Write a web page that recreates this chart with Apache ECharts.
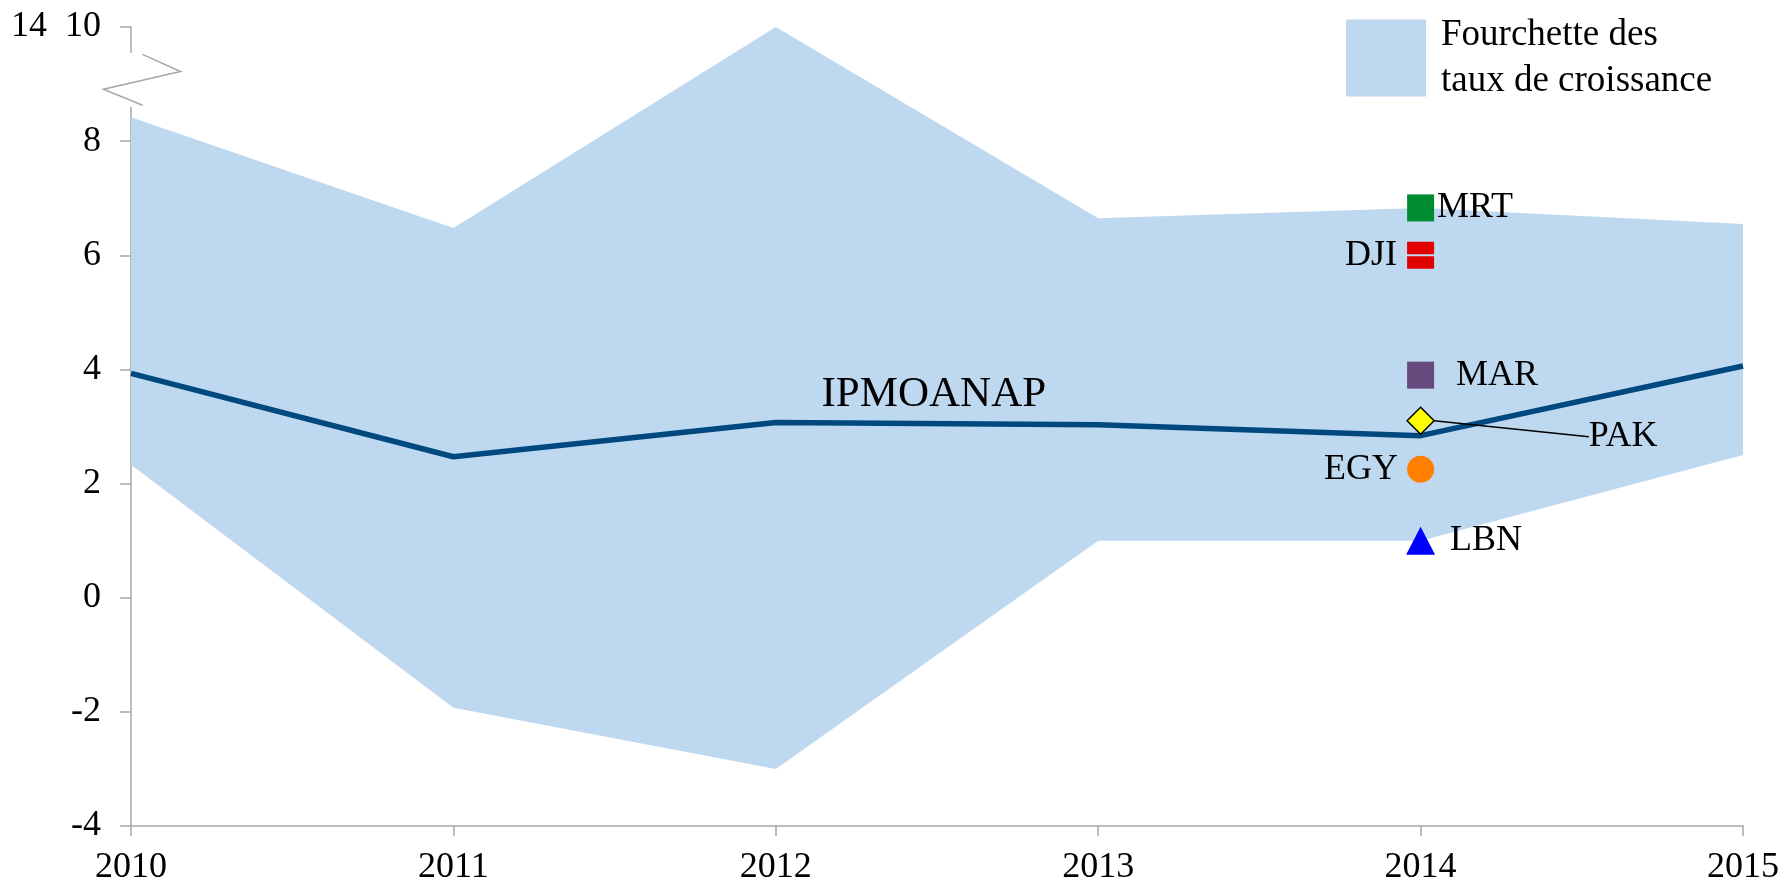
<!DOCTYPE html>
<html>
<head>
<meta charset="utf-8">
<script src="https://cdn.jsdelivr.net/npm/echarts@6/dist/echarts.min.js"></script>
<style>
  html, body { margin: 0; padding: 0; background: #fff; }
  #chart { width: 1783px; height: 884px; }
</style>
</head>
<body>
<div id="chart"></div>
<script>
// data
const years = ['2010', '2011', '2012', '2013', '2014', '2015'];
const bandLow = [2.33, -1.93, -3.0, 1.0, 1.0, 2.5];
const bandHigh = [8.42, 6.48, 10.0, 6.65, 6.83, 6.55];
const ipmoanap = [3.93, 2.47, 3.07, 3.03, 2.84, 4.06];
const countries = ['MRT', 'DJI', 'MAR', 'PAK', 'EGY', 'LBN'];
const values2014 = [6.83, 6.0, 3.9, 3.1, 2.25, 1.0];
const yTicks = [-4, -2, 0, 2, 4, 6, 8, 10];

const bandName = 'Fourchette des\ntaux de croissance';
const font = 'Liberation Serif';
const grey = '#a6a6a6';

let bandSpan = [];
for (let i = 0; i < years.length; i++) {
    bandSpan.push(+(bandHigh[i] - bandLow[i]).toFixed(2));
}

// marker look per country
const markerStyle = {
    MRT: { symbol: 'rect', size: 27, color: '#008c30', pos: 'right', dist: 3 },
    DJI: { symbol: 'path://M0 0H20V9.3H0ZM0 10.7H20V20H0Z', size: 27, color: '#e00000', pos: 'left', dist: 10 },
    MAR: { symbol: 'rect', size: 27, color: '#674a7d', pos: 'right', dist: 22 },
    PAK: { symbol: 'diamond', size: 27, color: '#ffff00', pos: 'right', dist: 5 },
    EGY: { symbol: 'circle', size: 27, color: '#ff8000', pos: 'left', dist: 9 },
    LBN: { symbol: 'triangle', size: [29, 28], color: '#0000ff', pos: 'right', dist: 15 }
};

let scatterSeries = [];
for (let i = 0; i < countries.length; i++) {
    let c = countries[i];
    let m = markerStyle[c];
    let s = {
        name: c,
        type: 'scatter',
        symbol: m.symbol,
        symbolSize: m.size,
        itemStyle: { color: m.color, opacity: 1 },
        label: {
            show: true,
            position: m.pos,
            distance: m.dist,
            formatter: '{a}',
            fontFamily: font,
            fontSize: 36,
            color: '#000'
        },
        z: 5,
        data: [[years[4], values2014[i]]]
    };
    if (c === 'PAK') {
        s.itemStyle.borderColor = '#000';
        s.itemStyle.borderWidth = 1.5;
        s.label.padding = [0, 0, 0, 15];
        s.labelLayout = { dx: 134, dy: 16 };
        s.labelLine = { show: true, lineStyle: { color: '#000', width: 1.5 } };
    }
    scatterSeries.push(s);
}

let lineData = [];
for (let i = 0; i < ipmoanap.length; i++) {
    if (i === 2) {
        lineData.push({
            value: ipmoanap[i],
            label: {
                show: true,
                position: 'top',
                distance: 6,
                offset: [158, 0],
                formatter: 'IPMOANAP',
                fontFamily: font,
                fontSize: 43,
                color: '#000'
            }
        });
    } else {
        lineData.push(ipmoanap[i]);
    }
}

const chart = echarts.init(document.getElementById('chart'));

let option = {
    animation: false,
    backgroundColor: '#fff',
    textStyle: { fontFamily: font },
    grid: { left: 131, right: 40, top: 27, bottom: 58, containLabel: false, outerBoundsMode: 'none' },
    legend: {
        left: 1341,
        top: 7,
        itemWidth: 80,
        itemHeight: 77,
        selectedMode: false,
        data: [{ name: bandName, icon: 'rect', itemStyle: { color: '#bed8f0' } }],
        textStyle: {
            fontFamily: font,
            fontSize: 37,
            lineHeight: 46,
            color: '#000',
            padding: [0, 0, 0, 10]
        }
    },
    xAxis: {
        type: 'category',
        data: years,
        boundaryGap: false,
        axisLine: { onZero: false, lineStyle: { color: grey, width: 1.5 } },
        axisTick: { show: true, alignWithLabel: true, length: 10, lineStyle: { color: grey, width: 1.5 } },
        axisLabel: { fontFamily: font, fontSize: 36, color: '#000', margin: 24 },
        splitLine: { show: false }
    },
    yAxis: {
        type: 'value',
        min: yTicks[0],
        max: yTicks[yTicks.length - 1],
        interval: 2,
        axisLine: { show: true, lineStyle: { color: grey, width: 1.5 } },
        axisTick: { show: true, length: 11, lineStyle: { color: grey, width: 1.5 } },
        axisLabel: {
            fontFamily: font,
            fontSize: 36,
            color: '#000',
            margin: 30,
            formatter: function (v) {
                return v === 10 ? '14  10' : String(v);
            }
        },
        splitLine: { show: false }
    },
    series: [
        {
            name: 'low',
            type: 'line',
            stack: 'band',
            stackStrategy: 'all',
            symbol: 'none',
            lineStyle: { opacity: 0 },
            silent: true,
            data: bandLow
        },
        {
            name: bandName,
            type: 'line',
            stack: 'band',
            stackStrategy: 'all',
            symbol: 'none',
            itemStyle: { color: '#bed8f0' },
            lineStyle: { opacity: 0 },
            areaStyle: { color: '#bed8f0', opacity: 1 },
            silent: true,
            data: bandSpan
        },
        {
            name: 'IPMOANAP',
            type: 'line',
            symbol: 'circle',
            symbolSize: 0,
            showSymbol: true,
            lineStyle: { color: '#00497f', width: 5.5 },
            itemStyle: { color: '#00497f' },
            z: 4,
            data: lineData
        }
    ].concat(scatterSeries)
};

chart.setOption(option);

// axis break marks on the y axis, between 8 and 10
function px(v) {
    return chart.convertToPixel({ xAxisIndex: 0, yAxisIndex: 0 }, [0, v]);
}
let a = px(9.55), b = px(9.52), c = px(9.22), d = px(8.91), e = px(8.63), f = px(8.6);
let ax = a[0];
chart.setOption({
    graphic: [
        {
            type: 'rect',
            shape: { x: ax - 3, y: a[1], width: 6, height: f[1] - a[1] },
            style: { fill: '#fff' },
            z: 100
        },
        {
            type: 'polyline',
            shape: { points: [[ax + 11.5, b[1]], [ax + 49.5, c[1]], [ax - 27.5, d[1]], [ax + 11.5, e[1]]] },
            style: { stroke: grey, lineWidth: 1.5, fill: null },
            z: 101
        }
    ]
});

window.addEventListener('resize', function () {
    chart.resize();
});
</script>
</body>
</html>
